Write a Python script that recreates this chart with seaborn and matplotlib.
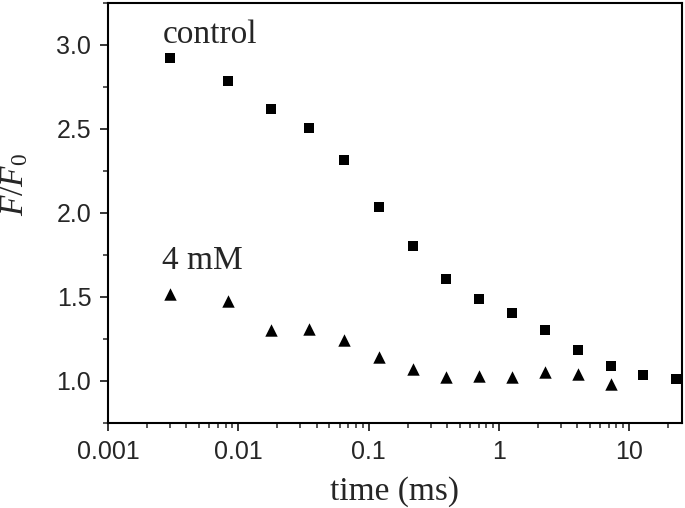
import numpy as np
import pandas as pd
import matplotlib
matplotlib.use("Agg")
import matplotlib.pyplot as plt
import matplotlib.ticker as mticker
import seaborn as sns

# data
time_ctrl = [0.0030, 0.0084, 0.0179, 0.0351, 0.0651, 0.120, 0.218, 0.391,
             0.703, 1.26, 2.26, 4.03, 7.25, 12.9, 23.1]
f_ctrl = [2.923, 2.784, 2.617, 2.508, 2.317, 2.034, 1.804, 1.607,
          1.488, 1.407, 1.304, 1.186, 1.089, 1.034, 1.010]
time_mm = [0.0030, 0.0084, 0.0179, 0.0351, 0.0651, 0.120, 0.218, 0.391,
           0.703, 1.26, 2.26, 4.03, 7.25]
f_mm = [1.518, 1.474, 1.305, 1.310, 1.242, 1.145, 1.070, 1.022,
        1.032, 1.024, 1.051, 1.043, 0.985]

df = pd.DataFrame({
    "time": time_ctrl + time_mm,
    "F": f_ctrl + f_mm,
    "group": ["control"] * len(time_ctrl) + ["4 mM"] * len(time_mm),
})

sns.set_style("ticks")
plt.rcParams["font.family"] = ["Liberation Sans", "DejaVu Sans"]
plt.rcParams["mathtext.fontset"] = "custom"
plt.rcParams["mathtext.rm"] = "Liberation Serif"
plt.rcParams["mathtext.it"] = "Liberation Serif:italic"

fig = plt.figure(figsize=(6.85, 5.08), dpi=100)
ax = fig.add_axes([108 / 685, 1 - 423 / 508, 574 / 685, 420 / 508])

sns.scatterplot(data=df[df.group == "control"], x="time", y="F", marker="s",
                color="black", s=52, linewidth=0, ax=ax, legend=False)
sns.scatterplot(data=df[df.group == "4 mM"], x="time", y="F", marker="^",
                color="black", s=80, linewidth=0, ax=ax, legend=False)

ax.set_xscale("log")
ax.set_xlim(0.001, 25.5)
ax.set_ylim(0.75, 3.25)
ax.xaxis.set_major_formatter(mticker.FuncFormatter(lambda v, p: f"{v:g}"))
ax.xaxis.set_minor_locator(mticker.LogLocator(base=10, subs=np.arange(2, 10)))
ax.xaxis.set_minor_formatter(mticker.NullFormatter())
ax.yaxis.set_major_locator(mticker.MultipleLocator(0.5))
ax.yaxis.set_minor_locator(mticker.MultipleLocator(0.25))
ax.yaxis.set_major_formatter(mticker.FormatStrFormatter("%.1f"))

for side in ["top", "right", "left", "bottom"]:
    ax.spines[side].set_visible(True)
    ax.spines[side].set_linewidth(1.5)
    ax.spines[side].set_color("black")

ax.tick_params(which="major", direction="out", length=6, width=1.3,
               labelsize=18, pad=6, top=False, right=False)
ax.tick_params(which="minor", direction="out", length=3.5, width=1.1,
               top=False, right=False)

ax.set_xlabel("time (ms)", fontsize=24, family="Liberation Serif", labelpad=9)
ax.set_ylabel(r"$F/F_\mathrm{0}$", fontsize=24)
ax.yaxis.set_label_coords(-0.135, 0.567)

ax.text(0.00262, 3.01, "control", fontsize=24, family="Liberation Serif",
        va="baseline", ha="left")
ax.text(0.00262, 1.665, "4 mM", fontsize=24, family="Liberation Serif",
        va="baseline", ha="left")

fig.savefig("out.png", dpi=100)
